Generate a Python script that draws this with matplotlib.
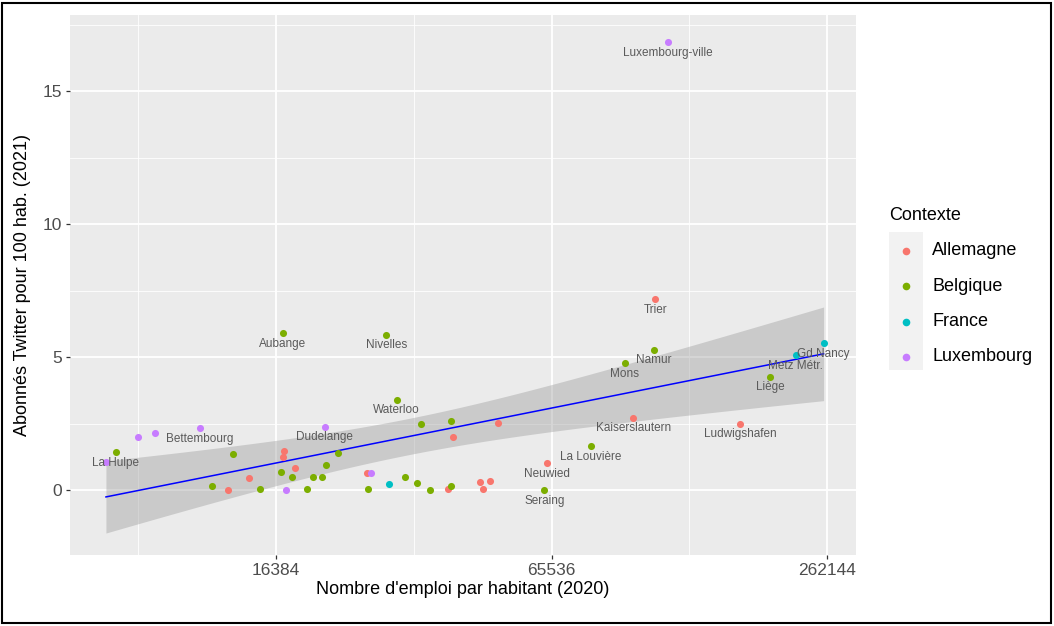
import matplotlib
matplotlib.use("Agg")
import matplotlib.pyplot as plt
from matplotlib.patches import Rectangle
from matplotlib.ticker import NullFormatter
import numpy as np

plt.rcParams['font.family'] = ['Liberation Sans', 'DejaVu Sans']

# --- data (emploi, abonnés / 100 hab., label) ---
groups = ['Allemagne', 'Belgique', 'France', 'Luxembourg']
colors = ['#F8766D', '#7CAE00', '#00BFC4', '#C77CFF']

all_x = [12890, 14320, 17060, 16940, 18010, 25850, 39880, 50010, 38960, 45640,
         46500, 48100, 64190, 98900, 169200, 110500]
all_y = [0.0, 0.45, 1.48, 1.23, 0.84, 0.63, 1.98, 2.53, 0.04, 0.29,
         0.04, 0.34, 1.01, 2.72, 2.49, 7.18]
all_lab = ['', '', '', '', '', '', '', '', '', '',
           '', '', 'Neuwied', 'Kaiserslautern', 'Ludwigshafen', 'Trier']

bel_x = [7312, 13180, 11870, 15120, 16800, 17730, 19120, 19710, 20660, 21070,
         22410, 26070, 16940, 28530, 30070, 33980, 39510, 31310, 33250, 35620,
         39510, 63220, 79960, 94830, 109600, 196700]
bel_y = [1.42, 1.35, 0.15, 0.05, 0.68, 0.5, 0.05, 0.5, 0.5, 0.95,
         1.4, 0.04, 5.89, 5.84, 3.39, 2.48, 2.6, 0.5, 0.28, 0.0,
         0.16, 0.0, 1.65, 4.77, 5.27, 4.25]
bel_lab = ['La Hulpe', '', '', '', '', '', '', '', '', '',
           '', '', 'Aubange', 'Nivelles', 'Waterloo', '', '', '', '', '',
           '', 'Seraing', 'La Louvière', 'Mons', 'Namur', 'Liège']

fra_x = [28990, 224100, 257600]
fra_y = [0.23, 5.07, 5.52]
fra_lab = ['', 'Metz Métr.', 'Gd Nancy']

lux_x = [6965, 8192, 8900, 11160, 17200, 20930, 26430, 117800]
lux_y = [1.05, 1.98, 2.15, 2.32, 0.0, 2.38, 0.63, 16.83]
lux_lab = ['', '', '', 'Bettembourg', '', 'Dudelange', '', 'Luxembourg-ville']

series = [(all_x, all_y, all_lab), (bel_x, bel_y, bel_lab),
          (fra_x, fra_y, fra_lab), (lux_x, lux_y, lux_lab)]

fig = plt.figure(figsize=(10.54, 6.26), dpi=100)
ax = fig.add_axes([70 / 1054, 71 / 626, 786 / 1054, 540 / 626])
ax.set_facecolor('#EBEBEB')

# linear fit on log2(x) with 95% confidence band (like geom_smooth(method='lm'))
xs = np.log2(np.concatenate([np.array(s[0], float) for s in series]))
ys = np.concatenate([np.array(s[1], float) for s in series])
n = len(xs)
b, a = np.polyfit(xs, ys, 1)
resid = ys - (a + b * xs)
s_err = np.sqrt(np.sum(resid ** 2) / (n - 2))
t_val = 2.005  # t(0.975, df ~ 55)
grid = np.linspace(xs.min(), xs.max(), 80)
fit = a + b * grid
se = s_err * np.sqrt(1 / n + (grid - xs.mean()) ** 2 / np.sum((xs - xs.mean()) ** 2))
ax.fill_between(2 ** grid, fit - t_val * se, fit + t_val * se,
                color='#999999', alpha=0.4, linewidth=0, zorder=2)
ax.plot(2 ** grid, fit, color='blue', linewidth=1.1, zorder=3)

for (gx, gy, glab), col in zip(series, colors):
    ax.scatter(gx, gy, s=26, color=col, linewidths=0, zorder=4)
    for x, y, t in zip(gx, gy, glab):
        if t:
            ax.annotate(t, (x, y), xytext=(0, -7.5), textcoords='offset points',
                        ha='center', va='center', fontsize=8.5, color='#5a5a5a',
                        zorder=5)

ax.set_xscale('log', base=2)
ax.set_xlim(2 ** 12.505, 2 ** 18.21)
ax.set_ylim(-2.44, 17.86)
ax.set_xticks([16384, 65536, 262144])
ax.set_xticklabels(['16384', '65536', '262144'])
ax.set_xticks([8192, 32768, 131072], minor=True)
ax.xaxis.set_minor_formatter(NullFormatter())
ax.set_yticks([0, 5, 10, 15])
ax.set_yticks([2.5, 7.5, 12.5, 17.5], minor=True)
ax.grid(which='major', color='white', linewidth=1.3)
ax.grid(which='minor', color='white', linewidth=0.6)
ax.set_axisbelow(True)
for sp in ax.spines.values():
    sp.set_visible(False)
ax.tick_params(which='major', length=3, width=0.9, color='#333333',
               labelcolor='#4D4D4D', labelsize=12.5, pad=3)
ax.tick_params(which='minor', length=0)
ax.set_xlabel("Nombre d'emploi par habitant (2020)", fontsize=13, color='black', labelpad=2)
ax.set_ylabel('Abonnés Twitter pour 100 hab. (2021)', fontsize=13, color='black', labelpad=8)

# legend drawn by hand, ggplot style
fig.text(889 / 1054, 1 - 215 / 626, 'Contexte', fontsize=13, ha='left', va='center')
fig.patches.append(Rectangle((889 / 1054, 1 - 370 / 626), 34 / 1054, 138 / 626,
                             transform=fig.transFigure, facecolor='#F2F2F2',
                             edgecolor='none'))
for i, (g, col) in enumerate(zip(groups, colors)):
    yy = 1 - (251 + i * 35.3) / 626
    fig.add_artist(plt.Line2D([906 / 1054], [yy], marker='o', markersize=5.5,
                              color=col, markeredgewidth=0, linestyle='none',
                              transform=fig.transFigure))
    fig.text(932 / 1054, yy, g, fontsize=13, ha='left', va='center')

# outer frame
fig.patches.append(Rectangle((2 / 1054, 3 / 626), 1049 / 1054, 620 / 626,
                             transform=fig.transFigure, fill=False,
                             edgecolor='black', linewidth=1.5))

fig.savefig('out.png', dpi=100)
